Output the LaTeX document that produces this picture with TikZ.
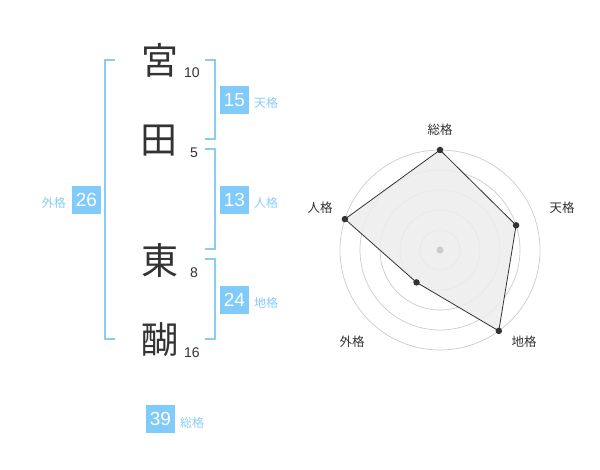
\documentclass[tikz,border=0pt]{standalone}
\usepackage{fontspec}
\setmainfont{Liberation Sans}
\newfontfamily\jp{Noto Sans CJK JP}
\definecolor{boxblue}{HTML}{80CBF9}
\definecolor{brblue}{HTML}{88CCF8}
\definecolor{lblblue}{HTML}{88CEF5}
\definecolor{ink}{HTML}{333333}
\definecolor{ringgray}{HTML}{CCCCCC}
\begin{document}
\begin{tikzpicture}[x=1pt,y=-1pt,
  kanji/.style={font=\jp\fontsize{37}{37}\selectfont, text=ink, inner sep=0pt},
  stroke/.style={font=\fontsize{14}{14}\selectfont, text=ink, inner sep=0pt},
  numbox/.style={fill=boxblue, text=white, font=\fontsize{19}{19}\selectfont, minimum width=29pt, minimum height=28pt, inner sep=0pt},
  kaku/.style={font=\jp\fontsize{12}{12}\selectfont, text=lblblue, inner sep=0pt},
  bracket/.style={draw=brblue, line width=1.8pt},
  ring/.style={draw=ringgray, line width=0.7pt},
  rlabel/.style={font=\jp\fontsize{12.5}{12.5}\selectfont, text=ink, inner sep=0pt},
  pt/.style={circle, fill=ink, inner sep=0pt, minimum size=6.5pt}]
\useasboundingbox (0,0) rectangle (600,470);
\fill[white] (0,0) rectangle (600,470);
% kanji
\node[kanji] (k1) at (160,60) {宮};
\node[kanji] (k2) at (159,141) {田};
\node[kanji] (k3) at (160,260) {東};
\node[kanji] (k4) at (160,340) {醐};
\node[stroke] (s1) at (192,73) {10};
\node[stroke] (s2) at (194,153) {5};
\node[stroke] (s3) at (194,273) {8};
\node[stroke] (s4) at (192,353) {16};
% brackets
\draw[bracket] (115,60) -- (105,60) -- (105,339) -- (115,339);
\draw[bracket] (205,60) -- (215,60) -- (215,139) -- (205,139);
\draw[bracket] (205,149) -- (215,149) -- (215,249) -- (205,249);
\draw[bracket] (205,259) -- (215,259) -- (215,339) -- (205,339);
% number boxes
\node[numbox] (ten) at (234.5,100) {15};
\node[kaku, anchor=west] (tenl) at (254,103) {天格};
\node[numbox] (jin) at (234.5,200) {13};
\node[kaku, anchor=west] (jinl) at (254,203) {人格};
\node[numbox] (chi) at (234.5,300) {24};
\node[kaku, anchor=west] (chil) at (254,303) {地格};
\node[numbox] (gai) at (86.5,200) {26};
\node[kaku, anchor=east] (gail) at (66,203) {外格};
\node[numbox] (sou) at (160.5,419) {39};
\node[kaku, anchor=west] (soul) at (180,423) {総格};
% radar
\coordinate (c) at (440,250);
\foreach \r in {20,40,60,80,100} \draw[ring] (c) circle[radius=\r];
\coordinate (p1) at (440,150);
\coordinate (p2) at (516.1,225.3);
\coordinate (p3) at (498.8,330.9);
\coordinate (p4) at (416.5,282.4);
\coordinate (p5) at (344.9,219.1);
\fill[black!7, opacity=0.85] (p1) -- (p2) -- (p3) -- (p4) -- (p5) -- cycle;
\draw[ink, line width=0.8pt] (p1) -- (p2) -- (p3) -- (p4) -- (p5) -- cycle;
\foreach \p in {p1,p2,p3,p4,p5} \node[pt] at (\p) {};
\node[circle, fill=ringgray, inner sep=0pt, minimum size=7pt] (cd) at (c) {};
\node[rlabel] (l1) at (440,130) {総格};
\node[rlabel] (l2) at (562,208) {天格};
\node[rlabel] (l3) at (524,342) {地格};
\node[rlabel] (l4) at (352,342) {外格};
\node[rlabel] (l5) at (320,208) {人格};
\end{tikzpicture}
\end{document}
